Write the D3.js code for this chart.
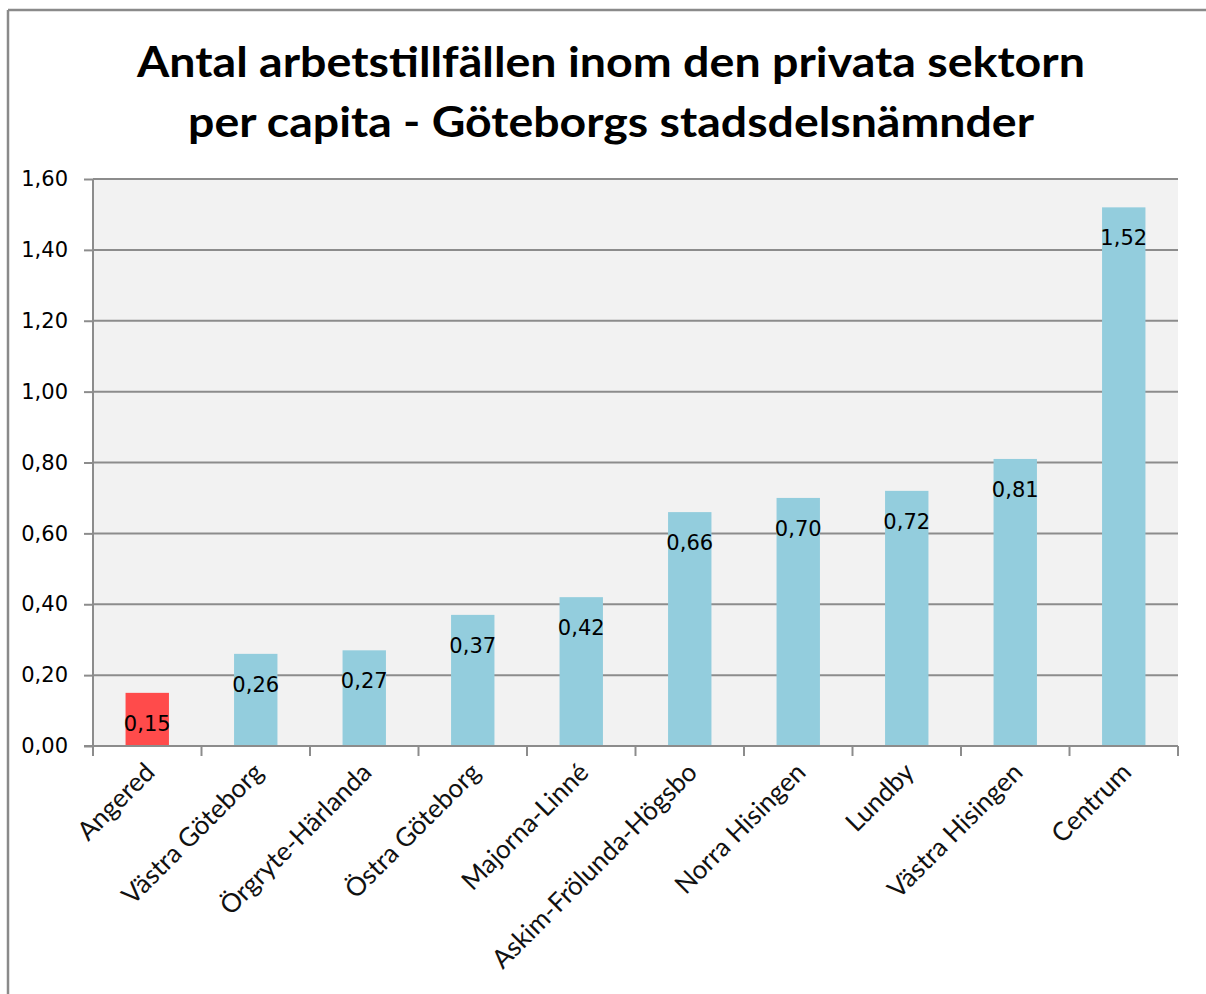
<!DOCTYPE html>
<html>
<head>
<meta charset="utf-8">
<script src="https://cdn.jsdelivr.net/npm/d3@7"></script>
<style>
  body { margin: 0; background: #fff; }
</style>
</head>
<body>
<div id="canvas"></div>
<script>
"use strict"

let svgWidth = 1206
let svgHeight = 994

/* Data */
let districts = ["Angered", "Västra Göteborg", "Örgryte-Härlanda", "Östra Göteborg",
    "Majorna-Linné", "Askim-Frölunda-Högsbo", "Norra Hisingen", "Lundby",
    "Västra Hisingen", "Centrum"]
let jobsPerCapita = [0.15, 0.26, 0.27, 0.37, 0.42, 0.66, 0.70, 0.72, 0.81, 1.52]
let yTicks = [0, 0.2, 0.4, 0.6, 0.8, 1.0, 1.2, 1.4, 1.6]
let titleLines = ["Antal arbetstillfällen inom den privata sektorn",
    "per capita - Göteborgs stadsdelsnämnder"]
let highlighted = "Angered"

let dataset = districts.map(function (d, i) {
    return {name: d, value: jobsPerCapita[i]}
})

/* plot area */
let plotLeft = 93
let plotRight = 1178
let plotTop = 179
let plotBottom = 746

let svg = d3.select("#canvas")
    .append("svg")
    .attr("width", svgWidth)
    .attr("height", svgHeight)

// outer frame (only top and left visible in the reference)
svg.append("line")
    .attr("x1", 8).attr("x2", svgWidth)
    .attr("y1", 10).attr("y2", 10)
    .attr("stroke", "#8a8a8a")
    .attr("stroke-width", 2.5)
svg.append("line")
    .attr("x1", 8).attr("x2", 8)
    .attr("y1", 10).attr("y2", svgHeight)
    .attr("stroke", "#8a8a8a")
    .attr("stroke-width", 2.5)

/* title */
let titleWidths = [948, 846]
svg.selectAll("text.title")
    .data(titleLines)
    .join("text")
    .attr("class", "title")
    .attr("x", 611)
    .attr("y", function (d, i) { return 77 + i * 60 })
    .attr("text-anchor", "middle")
    .attr("font-family", "Lato, 'Open Sans', sans-serif")
    .attr("font-weight", "bold")
    .attr("font-size", 42)
    .attr("textLength", function (d, i) { return titleWidths[i] })
    .attr("lengthAdjust", "spacingAndGlyphs")
    .attr("fill", "#000")
    .text(function (d) { return d })

/* scales */
let xScale = d3.scaleBand()
    .domain(districts)
    .range([plotLeft, plotRight])
    .paddingInner(0.6)
    .paddingOuter(0.3)

let yScale = d3.scaleLinear()
    .domain([0, 1.6])
    .range([plotBottom, plotTop])

// background
svg.append("rect")
    .attr("x", plotLeft)
    .attr("y", plotTop)
    .attr("width", plotRight - plotLeft)
    .attr("height", plotBottom - plotTop)
    .attr("fill", "#f2f2f2")

// gridlines
svg.selectAll("line.grid")
    .data(yTicks.slice(1))
    .join("line")
    .attr("class", "grid")
    .attr("x1", plotLeft)
    .attr("x2", plotRight)
    .attr("y1", function (d) { return yScale(d) })
    .attr("y2", function (d) { return yScale(d) })
    .attr("stroke", "#8c8c8c")
    .attr("stroke-width", 2)

/* bars */
svg.selectAll("rect.bar")
    .data(dataset)
    .join("rect")
    .attr("class", "bar")
    .attr("x", function (d) { return xScale(d.name) })
    .attr("y", function (d) { return yScale(d.value) })
    .attr("width", xScale.bandwidth())
    .attr("height", function (d) { return yScale(0) - yScale(d.value) })
    .attr("fill", function (d) { return d.name === highlighted ? "#ff4b4b" : "#93cddd" })

/* value labels */
let fmt = function (v) { return v.toFixed(2).replace(".", ",") }
svg.selectAll("text.value")
    .data(dataset)
    .join("text")
    .attr("class", "value")
    .attr("x", function (d) { return xScale(d.name) + xScale.bandwidth() / 2 })
    .attr("y", function (d) { return yScale(d.value) + 32 })
    .attr("text-anchor", "middle")
    .attr("dominant-baseline", "middle")
    .attr("font-family", "'DejaVu Sans', Verdana, sans-serif")
    .attr("font-size", 21)
    .attr("fill", "#000")
    .text(function (d) { return fmt(d.value) })

/* y axis */
let yAxis = d3.axisLeft(yScale)
    .tickValues(yTicks)
    .tickSize(9)
    .tickPadding(16)
    .tickFormat(fmt)

let yG = svg.append("g")
    .attr("transform", "translate(" + plotLeft + ",0)")
    .call(yAxis)
yG.select(".domain").attr("stroke", "#8c8c8c").attr("stroke-width", 2)
    .attr("d", "M0," + plotTop + "V" + plotBottom)
yG.selectAll(".tick line").attr("stroke", "#8c8c8c").attr("stroke-width", 2)
yG.selectAll(".tick text")
    .attr("font-family", "'DejaVu Sans', Verdana, sans-serif")
    .attr("font-size", 21)
    .attr("fill", "#000")

/* x axis */
let boundaries = districts.map(function (d) {
    return xScale(d) - (xScale.step() - xScale.bandwidth()) / 2
})
boundaries.push(plotRight)

svg.append("line")
    .attr("x1", plotLeft - 9)
    .attr("x2", plotRight)
    .attr("y1", plotBottom)
    .attr("y2", plotBottom)
    .attr("stroke", "#8c8c8c")
    .attr("stroke-width", 2)

svg.selectAll("line.xtick")
    .data(boundaries)
    .join("line")
    .attr("class", "xtick")
    .attr("x1", function (d) { return d })
    .attr("x2", function (d) { return d })
    .attr("y1", plotBottom)
    .attr("y2", plotBottom + 10)
    .attr("stroke", "#8c8c8c")
    .attr("stroke-width", 2)

svg.selectAll("text.cat")
    .data(districts)
    .join("text")
    .attr("class", "cat")
    .attr("transform", function (d) {
        let cx = xScale(d) + xScale.bandwidth() / 2 + 9
        return "translate(" + cx + "," + (plotBottom + 28) + ") rotate(-45)"
    })
    .attr("text-anchor", "end")
    .attr("font-family", "Lato, 'Open Sans', sans-serif")
    .attr("font-size", 26)
    .attr("fill", "#111")
    .text(function (d) { return d })
</script>
</body>
</html>
